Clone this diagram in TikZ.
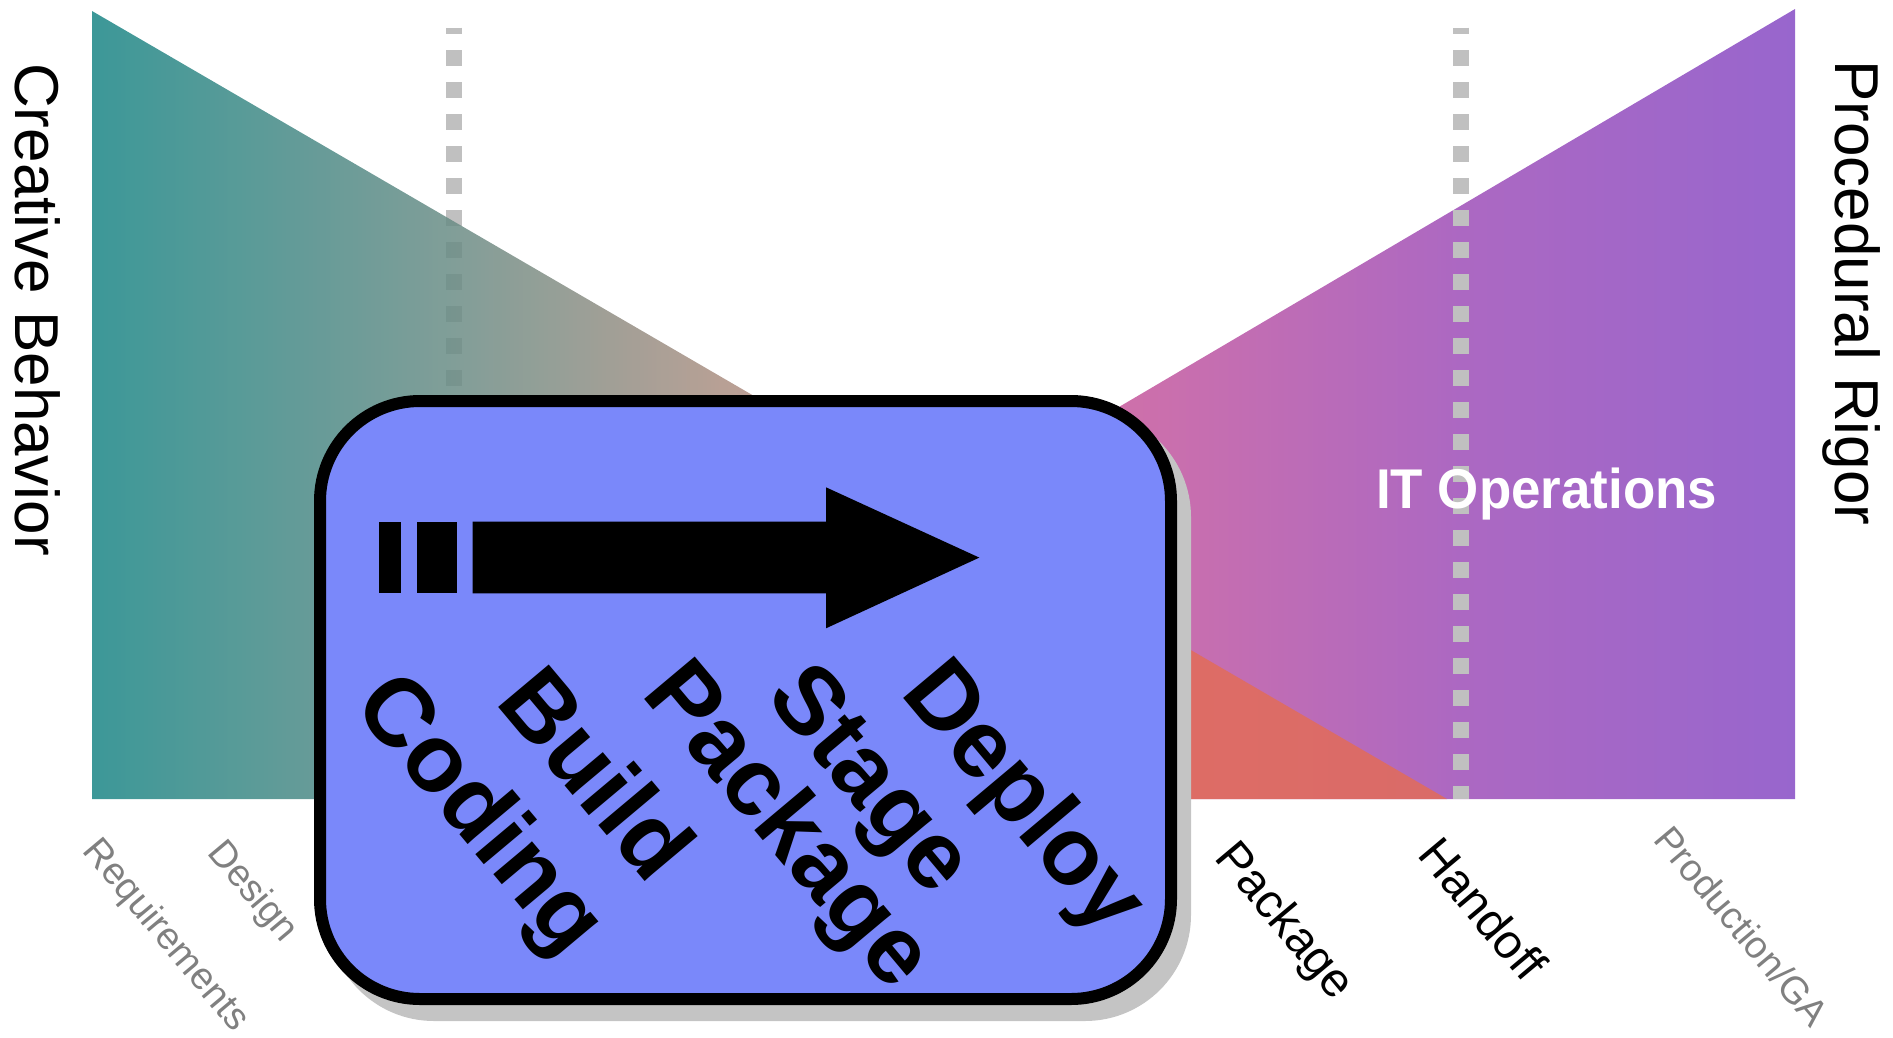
\documentclass[tikz,border=0pt]{standalone}
\usepackage{fontspec}
\setmainfont{Liberation Sans}

\definecolor{boxfill}{RGB}{122,136,250}
\definecolor{dashgray}{RGB}{192,192,192}
\definecolor{shadowgray}{RGB}{196,196,196}
\definecolor{labelgray}{RGB}{128,128,128}

% teal -> warm grey -> red, for the creative wedge (drawn at 85% opacity)
\pgfdeclarehorizontalshading{creativefade}{100bp}{%
  rgb(0bp)=(0.102,0.525,0.525); rgb(25bp)=(0.102,0.525,0.525);
  rgb(38.5bp)=(0.424,0.553,0.525); rgb(48.5bp)=(0.678,0.561,0.514);
  rgb(65.5bp)=(0.886,0.424,0.349); rgb(75bp)=(0.886,0.424,0.349);
  rgb(100bp)=(0.886,0.424,0.349)}
% pink -> purple, for the procedural wedge
\pgfdeclarehorizontalshading{rigorfade}{100bp}{%
  rgb(0bp)=(0.91,0.44,0.59); rgb(25bp)=(0.91,0.44,0.59);
  rgb(50bp)=(0.808,0.439,0.667); rgb(62.5bp)=(0.675,0.408,0.761);
  rgb(75bp)=(0.596,0.4,0.804); rgb(100bp)=(0.596,0.4,0.804)}

\begin{document}
\begin{tikzpicture}[x=1pt,y=-1pt,
  dashline/.style={draw=dashgray, line width=16pt,
    dash pattern=on 15.7pt off 16.3pt, dash phase=9.5pt},
  axislabel/.style={rotate=-90, anchor=base west, inner sep=0pt,
    font=\fontsize{62}{62}\selectfont},
  milestone/.style={rotate=-50, inner sep=0pt,
    font=\fontsize{38}{38}\selectfont},
  bigmilestone/.style={milestone, font=\fontsize{48}{48}\selectfont},
  boxword/.style={rotate=-50, inner sep=0pt,
    font=\bfseries\fontsize{96}{96}\selectfont},
]
\useasboundingbox (0,0) rectangle (1893,1037);

% phase boundary behind the creative wedge
\draw[dashline] (454,27.5) -- (454,799);

% the two wedges
\shade[shading=rigorfade] (453,799) -- (1795,799) -- (1795,9) -- cycle;
\shade[shading=creativefade, fill opacity=0.85] (92,11) -- (92,799) -- (1447,799) -- cycle;

% handoff boundary
\draw[dashline] (1460.5,27.5) -- (1460.5,799);

% axis titles
\node[axislabel] (creative) at (15,63) {Creative Behavior};
\node[axislabel] (rigor) at (1835,60) {Procedural Rigor};
\node[anchor=base west, inner sep=0pt, text=white,
      font=\bfseries\fontsize{56}{56}\selectfont] (itops) at (1376,508)
      {\scalebox{0.945}[1]{IT Operations}};

% pipeline panel with drop shadow
\fill[shadowgray, rounded corners=106pt] (328,411) rectangle (1191,1021);
\draw[line width=12pt, fill=boxfill, rounded corners=100pt] (320,401) rectangle (1171,999);

% flow arrow with trailing bars
\fill (379.3,521.7) rectangle (400.7,593.3);
\fill (416.7,521.7) rectangle (456.7,593.3);
\fill (472.7,521.7) -- (826,521.7) -- (826,487.3) -- (979.3,557.6)
      -- (826,628.3) -- (826,593.3) -- (472.7,593.3) -- cycle;

% pipeline steps
\node[boxword] (coding) at (477,817) {Coding};
\node[boxword] (build) at (598,772) {Build};
\node[boxword] (package) at (785,828) {Package};
\node[boxword] (stage) at (866,783) {Stage};
\node[boxword] (deploy) at (1021,800) {Deploy};

% lifecycle milestones
\node[milestone, text=labelgray] (req) at (165,936) {Requirements};
\node[milestone, text=labelgray] (design) at (252,892) {Design};
\node[bigmilestone] (pkg) at (1283,922) {Package};
\node[bigmilestone] (handoff) at (1483,909) {Handoff};
\node[milestone, text=labelgray] (prod) at (1742,926) {Production/GA};
\end{tikzpicture}
\end{document}
